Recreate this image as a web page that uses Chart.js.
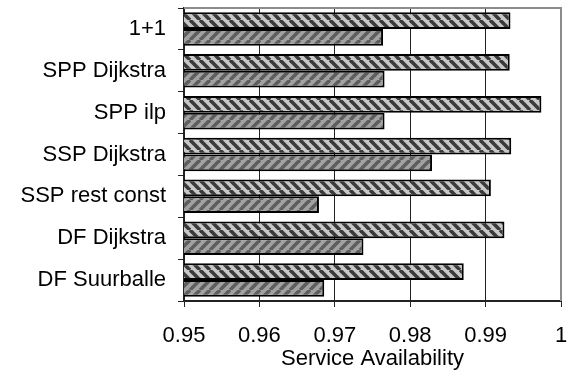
<!DOCTYPE html>
<html>
<head>
<meta charset="utf-8">
<script src="https://cdn.jsdelivr.net/npm/chart.js@4"></script>
<style>
  body { margin: 0; background: #fff; }
  #wrap { width: 567px; height: 372px; }
</style>
</head>
<body>
<div id="wrap"><canvas id="availCV"></canvas></div>
<script>
const methods = ['1+1', 'SPP Dijkstra', 'SPP ilp', 'SSP Dijkstra', 'SSP rest const', 'DF Dijkstra', 'DF Suurballe'];
const upperValues = [0.9933, 0.9932, 0.9974, 0.9934, 0.9907, 0.9925, 0.9871];
const lowerValues = [0.9764, 0.9766, 0.9766, 0.9829, 0.9679, 0.9738, 0.9686];
const axisTicks = [0.95, 0.96, 0.97, 0.98, 0.99, 1];

// hatched fills like the old excel chart
function hatch(bg, fg, back) {
  const n = 10;
  const c = document.createElement('canvas');
  c.width = n; c.height = n;
  const g = c.getContext('2d');
  g.fillStyle = bg;
  g.fillRect(0, 0, n, n);
  g.strokeStyle = fg;
  g.lineWidth = 3.6;
  for (let k = -n; k <= n; k += n) {
    g.beginPath();
    if (back) { g.moveTo(k, 0); g.lineTo(k + n, n); }
    else { g.moveTo(k, n); g.lineTo(k + n, 0); }
    g.stroke();
  }
  return g.createPattern(c, 'repeat');
}

const frame = {
  id: 'frame',
  afterDraw(chart) {
    const a = chart.chartArea, g = chart.ctx;
    g.save();
    g.strokeStyle = '#8c8c8c';
    g.lineWidth = 2;
    g.beginPath();
    g.moveTo(a.left, a.top);
    g.lineTo(a.right, a.top);
    g.lineTo(a.right, a.bottom);
    g.stroke();
    g.restore();
  }
};

(function(){
  const ctx = document.getElementById('availCV');
  const font = { family: 'Arial, "Liberation Sans", sans-serif', size: 22 };

  new Chart(ctx, {
    type: 'bar',
    data: {
      labels: methods,
      datasets: [{
        data: upperValues,
        backgroundColor: hatch('#c8c8c8', '#3a3a3a', true),
        borderColor: '#000',
        borderWidth: 2,
        borderSkipped: 'start'
      }, {
        data: lowerValues,
        backgroundColor: hatch('#a2a2a2', '#5e5e5e', false),
        borderColor: '#000',
        borderWidth: 2,
        borderSkipped: 'start'
      }]
    },
    options: {
      indexAxis: 'y',
      responsive: true,
      maintainAspectRatio: false,
      animation: false,
      categoryPercentage: 0.8,
      barPercentage: 1.0,
      layout: { padding: { top: 8, right: 6, bottom: 0, left: 0 } },
      scales: {
        x: {
          min: 0.95,
          max: 1,
          afterBuildTicks: function(scale) {
            scale.ticks = axisTicks.map(v => ({ value: v }));
          },
          afterFit: function(scale) {
            scale.height = 71;
            scale.paddingLeft = 0;
            scale.paddingRight = 0;
          },
          ticks: {
            color: '#000',
            font: font,
            padding: 16,
            callback: v => String(Number(v.toFixed(2)))
          },
          grid: { color: '#222', lineWidth: 1, tickLength: 6 },
          border: { color: '#222', width: 2 },
          title: {
            display: true,
            text: 'Service Availability',
            color: '#000',
            font: font,
            padding: { top: 0, bottom: 0 }
          }
        },
        y: {
          afterFit: function(scale) {
            scale.width = 184;
            scale.paddingTop = 0;
            scale.paddingBottom = 0;
          },
          ticks: { color: '#000', font: font, padding: 12 },
          grid: { offset: true, drawOnChartArea: false, color: '#222', tickLength: 6 },
          border: { color: '#222', width: 2 }
        }
      },
      plugins: {
        legend: { display: false },
        tooltip: { enabled: false }
      }
    },
    plugins: [frame]
  });
})();
</script>
</body>
</html>
